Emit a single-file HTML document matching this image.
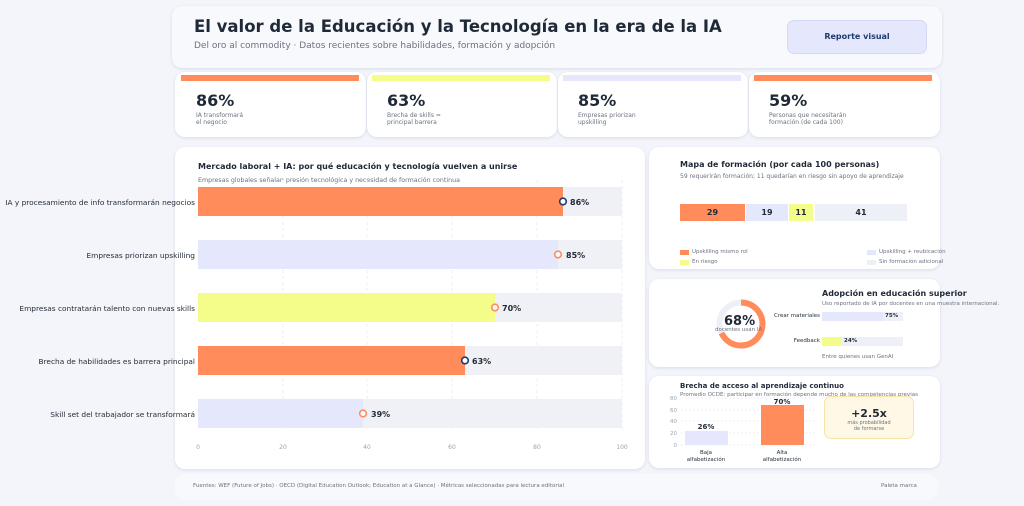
<!DOCTYPE html>
<html><head><meta charset="utf-8"><style>
*{box-sizing:border-box;margin:0;padding:0}
body{width:1024px;height:506px;background:#f3f5fb;font-family:"DejaVu Sans","Liberation Sans",sans-serif;position:relative;overflow:hidden;color:#1f2937}
.a{position:absolute}
.card{position:absolute;background:#fff;border-radius:10px;box-shadow:0 1px 3px rgba(30,40,90,.12)}
.t{position:absolute;white-space:nowrap}
</style></head><body>
<div class="card" style="left:172px;top:6px;width:770px;height:62px;background:#f8f9fc"></div>
<div class="t" style="left:194px;top:17px;font-size:16.5px;font-weight:bold;color:#1f2937">El valor de la Educación y la Tecnología en la era de la IA</div>
<div class="t" style="left:194px;top:41px;font-size:9px;color:#6b7280">Del oro al commodity · Datos recientes sobre habilidades, formación y adopción</div>
<div class="a" style="left:787px;top:20px;width:140px;height:34px;background:#e5e7fc;border:1px solid #d6d9f5;border-radius:7px;font-size:8px;font-weight:bold;color:#1e3a6e;text-align:center;line-height:32px">Reporte visual</div>

<div class="card" style="left:175px;top:72px;width:191px;height:65px"></div>
<div class="card" style="left:367px;top:72px;width:190px;height:65px"></div>
<div class="card" style="left:558px;top:72px;width:190px;height:65px"></div>
<div class="card" style="left:749px;top:72px;width:191px;height:65px"></div>
<div class="a" style="left:181px;top:75px;width:178px;height:6px;background:#ff8c5a"></div>
<div class="a" style="left:372px;top:75px;width:178px;height:6px;background:#f4fd8a"></div>
<div class="a" style="left:563px;top:75px;width:178px;height:6px;background:#e5e7fc"></div>
<div class="a" style="left:754px;top:75px;width:178px;height:6px;background:#ff8c5a"></div>
<div class="t" style="left:196px;top:91px;font-size:16px;font-weight:bold">86%</div>
<div class="t" style="left:387px;top:91px;font-size:16px;font-weight:bold">63%</div>
<div class="t" style="left:578px;top:91px;font-size:16px;font-weight:bold">85%</div>
<div class="t" style="left:769px;top:91px;font-size:16px;font-weight:bold">59%</div>
<div class="t" style="left:196px;top:112px;font-size:6px;color:#6b7280;line-height:7px">IA transformará<br>el negocio</div>
<div class="t" style="left:387px;top:112px;font-size:6px;color:#6b7280;line-height:7px">Brecha de skills =<br>principal barrera</div>
<div class="t" style="left:578px;top:112px;font-size:6px;color:#6b7280;line-height:7px">Empresas priorizan<br>upskilling</div>
<div class="t" style="left:769px;top:112px;font-size:6px;color:#6b7280;line-height:7px">Personas que necesitarán<br>formación (de cada 100)</div>

<div class="card" style="left:175px;top:147px;width:470px;height:322px"></div>
<div class="t" style="left:198px;top:162px;font-size:8px;font-weight:bold">Mercado laboral + IA: por qué educación y tecnología vuelven a unirse</div>
<div class="t" style="left:198px;top:177px;font-size:6.3px;color:#6b7280">Empresas globales señalan presión tecnológica y necesidad de formación continua</div>
<svg class="a" style="left:0;top:0" width="650" height="470">
<g stroke="#eceef3" stroke-dasharray="3,3"><line x1="283" y1="180" x2="283" y2="430"/><line x1="367" y1="180" x2="367" y2="430"/><line x1="452" y1="180" x2="452" y2="430"/><line x1="537" y1="180" x2="537" y2="430"/><line x1="622" y1="180" x2="622" y2="430"/></g>
<g fill="#f0f1f7"><rect x="198" y="187" width="424" height="29"/><rect x="198" y="240" width="424" height="29"/><rect x="198" y="293" width="424" height="29"/><rect x="198" y="346" width="424" height="29"/><rect x="198" y="399" width="424" height="29"/></g>
<rect x="198" y="187" width="365" height="29" fill="#ff8c5a"/>
<rect x="198" y="240" width="360" height="29" fill="#e5e7fc"/>
<rect x="198" y="293" width="297" height="29" fill="#f4fd8a"/>
<rect x="198" y="346" width="267" height="29" fill="#ff8c5a"/>
<rect x="198" y="399" width="165" height="29" fill="#e5e7fc"/>
<g fill="#fff" stroke-width="1.6"><circle cx="563" cy="201.5" r="3.3" stroke="#1e3a6e"/><circle cx="558" cy="254.5" r="3.3" stroke="#ff8c5a"/><circle cx="495" cy="307.5" r="3.3" stroke="#ff8c5a"/><circle cx="465" cy="360.5" r="3.3" stroke="#1e3a6e"/><circle cx="363" cy="413.5" r="3.3" stroke="#ff8c5a"/></g>
<g font-size="8" font-weight="bold" fill="#1f2937" font-family="DejaVu Sans"><text x="570" y="205">86%</text><text x="566" y="258">85%</text><text x="502" y="311">70%</text><text x="472" y="364">63%</text><text x="371" y="417">39%</text></g>
<g font-size="7.4" fill="#1f2937" text-anchor="end" font-family="DejaVu Sans"><text x="195" y="205">IA y procesamiento de info transformarán negocios</text><text x="195" y="258">Empresas priorizan upskilling</text><text x="195" y="311">Empresas contratarán talento con nuevas skills</text><text x="195" y="364">Brecha de habilidades es barrera principal</text><text x="195" y="417">Skill set del trabajador se transformará</text></g>
<g font-size="6" fill="#9ca3af" text-anchor="middle" font-family="DejaVu Sans"><text x="198" y="449">0</text><text x="283" y="449">20</text><text x="367" y="449">40</text><text x="452" y="449">60</text><text x="537" y="449">80</text><text x="622" y="449">100</text></g>
</svg>

<div class="card" style="left:649px;top:147px;width:291px;height:122px"></div>
<div class="t" style="left:680px;top:160px;font-size:8px;font-weight:bold">Mapa de formación (por cada 100 personas)</div>
<div class="t" style="left:680px;top:173px;font-size:6px;color:#6b7280">59 requerirán formación; 11 quedarían en riesgo sin apoyo de aprendizaje</div>
<div class="a" style="left:680px;top:204px;width:65px;height:17px;background:#ff8c5a;font-size:8px;font-weight:bold;text-align:center;line-height:17px">29</div>
<div class="a" style="left:746px;top:204px;width:42px;height:17px;background:#e5e7fc;font-size:8px;font-weight:bold;text-align:center;line-height:17px">19</div>
<div class="a" style="left:789px;top:204px;width:24px;height:17px;background:#f4fd8a;font-size:8px;font-weight:bold;text-align:center;line-height:17px">11</div>
<div class="a" style="left:815px;top:204px;width:92px;height:17px;background:#eef0f8;font-size:8px;font-weight:bold;text-align:center;line-height:17px">41</div>
<div class="a" style="left:680px;top:250px;width:9px;height:5px;background:#ff8c5a"></div>
<div class="t" style="left:692px;top:249px;font-size:5.5px;color:#6b7280">Upskilling mismo rol</div>
<div class="a" style="left:680px;top:260px;width:9px;height:5px;background:#f4fd8a"></div>
<div class="t" style="left:692px;top:259px;font-size:5.5px;color:#6b7280">En riesgo</div>
<div class="a" style="left:867px;top:250px;width:9px;height:5px;background:#e5e7fc"></div>
<div class="t" style="left:879px;top:249px;font-size:5.5px;color:#6b7280">Upskilling + reubicación</div>
<div class="a" style="left:867px;top:260px;width:9px;height:5px;background:#eef0f8"></div>
<div class="t" style="left:879px;top:259px;font-size:5.5px;color:#6b7280">Sin formación adicional</div>

<div class="card" style="left:649px;top:279px;width:291px;height:88px"></div>
<svg class="a" style="left:715px;top:298px" width="52" height="52"><circle cx="26" cy="26" r="21.5" fill="none" stroke="#eef0f8" stroke-width="6"/><circle cx="26" cy="26" r="21.5" fill="none" stroke="#ff8c5a" stroke-width="6" stroke-dasharray="91.9 135.1" transform="rotate(-90 26 26)"/></svg>
<div class="t" style="left:724px;top:314px;font-size:13px;font-weight:bold">68%</div>
<div class="t" style="left:715px;top:327px;font-size:5.5px;color:#6b7280">docentes usan IA</div>
<div class="t" style="left:822px;top:289px;font-size:8px;font-weight:bold">Adopción en educación superior</div>
<div class="t" style="left:822px;top:301px;font-size:5.5px;color:#6b7280">Uso reportado de IA por docentes en una muestra internacional.</div>
<div class="t" style="left:770px;top:313px;font-size:5.5px;width:50px;text-align:right">Crear materiales</div>
<div class="a" style="left:822px;top:312px;width:81px;height:9px;background:#eef0f8"></div>
<div class="a" style="left:822px;top:312px;width:61px;height:9px;background:#e5e7fc"></div>
<div class="t" style="left:885px;top:313px;font-size:5.5px;font-weight:bold">75%</div>
<div class="t" style="left:770px;top:338px;font-size:5.5px;width:50px;text-align:right">Feedback</div>
<div class="a" style="left:822px;top:337px;width:81px;height:9px;background:#eef0f8"></div>
<div class="a" style="left:822px;top:337px;width:20px;height:9px;background:#f4fd8a"></div>
<div class="t" style="left:844px;top:338px;font-size:5.5px;font-weight:bold">24%</div>
<div class="t" style="left:822px;top:354px;font-size:5.5px;color:#6b7280">Entre quienes usan GenAI</div>

<div class="card" style="left:649px;top:376px;width:291px;height:92px"></div>
<div class="t" style="left:680px;top:382px;font-size:7px;font-weight:bold">Brecha de acceso al aprendizaje continuo</div>
<div class="t" style="left:680px;top:392px;font-size:5.5px;color:#6b7280">Promedio OCDE: participar en formación depende mucho de las competencias previas</div>
<svg class="a" style="left:649px;top:376px" width="180" height="92">
<g stroke="#eceef3" stroke-dasharray="2,2"><line x1="32" y1="22" x2="166" y2="22"/><line x1="32" y1="34" x2="166" y2="34"/><line x1="32" y1="45" x2="166" y2="45"/><line x1="32" y1="57" x2="166" y2="57"/><line x1="32" y1="69" x2="166" y2="69"/></g>
<g font-size="5.5" fill="#9ca3af" text-anchor="end" font-family="DejaVu Sans"><text x="28" y="24">80</text><text x="28" y="36">60</text><text x="28" y="47">40</text><text x="28" y="59">20</text><text x="28" y="71">0</text></g>
<rect x="36" y="55" width="43" height="14" fill="#e5e7fc"/>
<rect x="112" y="29" width="43" height="40" fill="#ff8c5a"/>
<g font-size="7" font-weight="bold" fill="#1f2937" text-anchor="middle" font-family="DejaVu Sans"><text x="57" y="53">26%</text><text x="133" y="28">70%</text></g>
<g font-size="5.5" fill="#1f2937" text-anchor="middle" font-family="DejaVu Sans"><text x="57" y="78">Baja</text><text x="57" y="85">alfabetización</text><text x="133" y="78">Alta</text><text x="133" y="85">alfabetización</text></g>
</svg>
<div class="a" style="left:824px;top:396px;width:90px;height:43px;background:#fff8e6;border:1px solid #f8e3a8;border-radius:7px;text-align:center">
<div style="font-size:11px;font-weight:bold;margin-top:10px">+2.5x</div>
<div style="font-size:5px;color:#6b7280;line-height:6px">más probabilidad<br>de formarse</div></div>

<div class="card" style="left:175px;top:474px;width:763px;height:26px;background:#f8f9fc;box-shadow:none"></div>
<div class="t" style="left:193px;top:483px;font-size:5.5px;color:#6b7280">Fuentes: WEF (Future of Jobs) · OECD (Digital Education Outlook; Education at a Glance) · Métricas seleccionadas para lectura editorial</div>
<div class="t" style="left:881px;top:483px;font-size:5.5px;color:#6b7280">Paleta marca</div>
</body></html>
